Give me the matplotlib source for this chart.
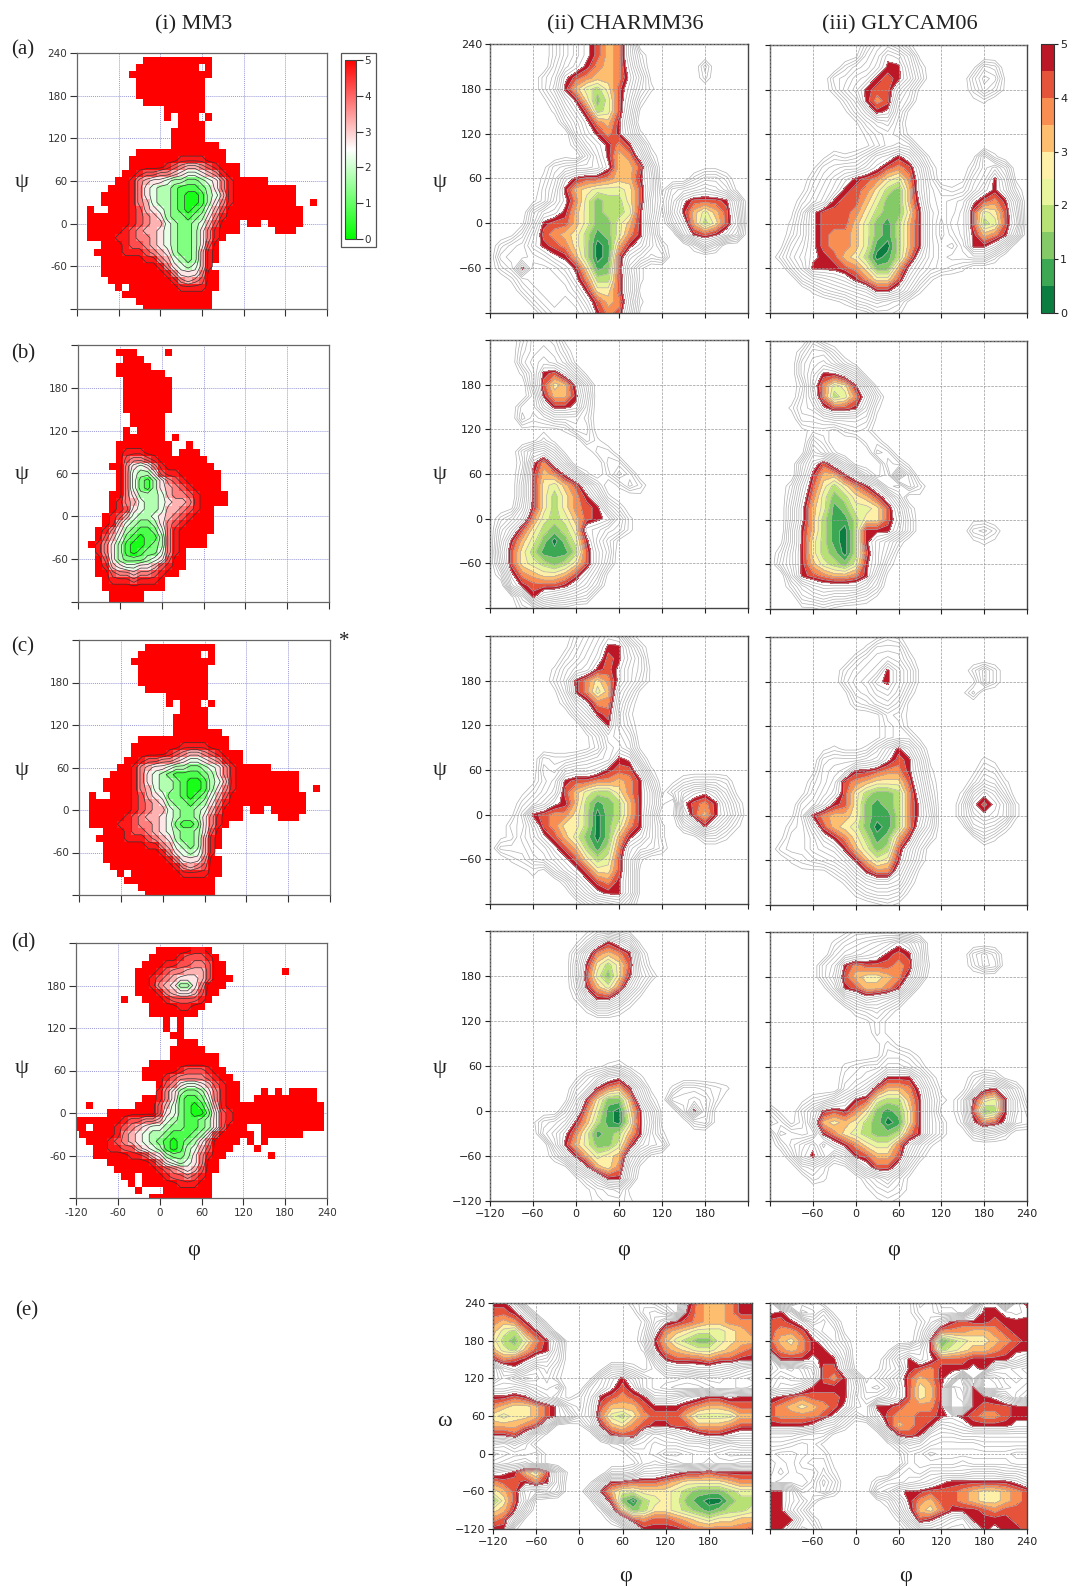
import numpy as np
import matplotlib
matplotlib.use("Agg")
import matplotlib.pyplot as plt
from matplotlib.colors import LinearSegmentedColormap, Normalize
from matplotlib.cm import ScalarMappable
from matplotlib.patches import Rectangle

W, H = 1072, 1587
SERIF = "Liberation Serif"

# MM3 maps: 10 degree cells, rows psi 230..-120, columns phi -120..230
# (first column, cells); digit = energy band (value*0.5), r = red cell, . = empty
mm3_a = [(10,"rrrrrrrrrr"),(9,"rrrrrrrrr.r"),(8,"rrrrrrrrrrrr"),(9,"rrrrrrrrrr"),(9,"rrrrrrrrrr"),(9,"rrrrrrrrrr"),
 (10,"rrrrrrrrr"),(13,"rrrrrr"),(13,"r.rrr.r"),(15,"rrrr"),(14,"rrrrr"),(14,"rrrrr"),(14,"rrrrrrr"),(9,"rrrrrrrrrrrrr"),
 (8,"rrrrrrr9999rrr"),(8,"rrrrr98766789rrr"),(7,"rr9887765445679rr"),(6,"rr976554332234579rrrrr"),
 (5,"rrr975433211123579rrrrrrrrr"),(4,"rrrr975433210013469rrrrrrrrr"),(4,"rrrr976433210013579rrrrrrrrr..r"),
 (2,"r..rrr98654321012468rrrrrrrrrrr"),(2,"rrrrrr98765322123579rrrrrrrrrrr"),(2,"rrrrrr9876643223468rrr.rr.rrrrr"),
 (2,"rrrrr98766543223579rrr.....rrr"),(2,"rrrr998776543223579r"),(4,"rrr9887654322358r"),(3,"rrrr9998765322369r"),
 (4,"rrrrrr9976432369r"),(4,"rrrrrrrr97543469"),(4,"rrrrrrrrr975557rr"),(5,"rrrrrrrrr97678rr"),(6,"r.rrrrrrr9999rr"),
 (7,"rrrrrrrrrrrrr"),(9,"rrrrrrrrrrr"),(10,"rrrrrrrrrr")]

mm3_b = [(6,"rrr....r"),(7,"rrr"),(6,"rrrrr"),(6,"rrrrrrr"),(7,"rrrrrrr"),(7,"rrrrrrr"),(7,"rrrrrrr"),(7,"rrrrrrr"),(7,"rrrrrrr"),
 (8,"rrrrr"),(8,"rrrrr"),(7,"r.rrrr"),(7,"rrrrrr.r"),(6,"rrrrrrrr..r"),(6,"r999rrrr.rrr"),(6,"r87789rrrrrrr"),
 (5,"rr754579rrrrrrr"),(6,"r74335899rrrrrr"),(6,"r742135789rrrrr"),(6,"r7421356789rrrr"),(5,"rr75333467789rrrr"),
 (5,"r976433456679rrrr"),(5,"r985433466789rr"),(4,"r986433456789rrr"),(4,"r96432235789rrrr"),(3,"r97532112479rrrrr"),
 (3,"r86421011379rrrr"),(2,"r975310012379rrrr"),(3,"975310122479r"),(3,"r8532223458rr"),(3,"r9654455689rr"),
 (3,"rr87767789rr"),(4,"r9998999r"),(4,"rrrrrrrrr"),(5,"rrrrr"),(5,"rrrrr")]

mm3_c = list(mm3_a)
mm3_c[18] = (5,"rrr975432111123579rrrrrrrrr")
mm3_c[21] = (2,"r..rrr98654221012468rrrrrrrrrrr")
mm3_c[25] = (2,"rrrr998776542112579r")

mm3_d = [(12,"rrrrr99r"),(11,"rrrr98889r"),(10,"rrr9988778rr"),(9,"rrr98776668rr........r"),(9,"rr987655568rrr"),(9,"rr97653357rrr"),
 (9,"rrr9765568rr"),(7,"r..rrr988889r"),(11,"rrrr99rr"),(11,"rrrrrrr"),(13,"r.r"),(13,"r.r"),(14,"rr"),(15,"rrr"),(14,"rrrrr"),
 (14,"rrrrrrr"),(11,"rrrrrrrrrr"),(10,"rrrrr98889rr"),(10,"rrr98777789rr"),(12,"r875445689rr"),(12,"9753223579rr...r.r.rrrr"),
 (10,"rr9752112479rr..rrrrrrrrr"),(2,"r......rrr8642101369rrrrrrrrrrrrrr"),(5,"rrrrrrr85421002589rrrrrrrrrrrrr"),
 (0,"rrrrrrr9887764321123589rrrrrrrrrrrrr"),(0,"rr.rrr9876544322112358rrr..rrrrrrrrr"),(1,"rrrrr976543321112358rrrrr.rrrrrr"),
 (2,"rrr987654321012357rrrr.r.r"),(3,"rr998865431013468rrr...r"),(3,"rrrrr998653223579rr......r"),(5,"rrrrrr97543457rr"),
 (6,"rrrrrr9876568rr"),(7,"rr.rrr988789r"),(8,"r.rrrrr999rr"),(9,"r...rrrrrrr"),(11,"rrrrrrrrr")]

# MD maps: 15 degree grid, rows 240..-120, columns phi -120..240
# (first column, cells); 0-9 = coloured bands, a-j = grey bands, . = above all levels
charmm_a = [(6,"heca867c"),(6,"heca867ch"),(6,"gdb9767bg.....g"),(5,"hfa87667aej....h"),(5,"he964358bfi"),(5,"jgc95248ch"),
 (6,"ieb8348dj"),(7,"gda769e"),(8,"eb979di"),(8,"hdb979ej"),(7,"j.gc967bh"),(5,"jgfeeda668e....jj"),(5,"ifb9887669d...hffh"),
 (5,"he96544458djfedcdfj"),(4,"jhda7423358eiea8889e"),(4,"fcb96423349ejd96468d"),(3,"je9886422469f.fb6358c"),
 (2,"jgc8765312479e..d989be"),(1,"hfeb987530169beh..hdg"),(1,"feedca963018cegf"),(1,"hf9eedb95128ei"),(2,"ifeeeda7338di"),
 (3,"hfeeec9558dj"),(4,"hfefeb867ci"),(5,"hfffd978dj")]

glycam_a = [(9,"hedfi"),(8,"jfdabej"),(7,"hfec99dh....jfg"),(6,"gfdc989cg....gdej"),(6,"hec988cfj....hegj"),(7,"he978eg.....ji"),
 (7,"jgd9afj"),(8,"jgedg"),(9,"igfgj"),(9,"jhfefj"),(5,"jhihfcb9bfj...jei"),(4,"jgfeeca878ch...hecf"),(4,"hfdb987547bg..jfd9dj"),
 (3,"jgec9875326bfhiheb9ch"),(3,"hfd98864226afgfea879e"),(2,"jfa8887532259egfd8458d"),(2,"iea8886421369ehed8348c"),
 (2,"hea8776421369ehfd9679e"),(1,"jfda8776410369eghe99bf"),(1,"heca986530137begffeeh"),(2,"gd999875226adfghi"),
 (3,"gedcb97558cfi"),(4,"igfedc99bei"),(6,"jigfefgj"),(9,"jhhi")]

charmm_b = [(3,"heefj"),(3,"gedeh"),(3,"fdcdfj"),(3,"ie98bfj"),(4,"e856af"),(4,"g9669e"),(3,"ggc99af"),(3,"fhgeeeg"),(3,"jjjjiff"),
 (4,"jhj..gi"),(3,"gdcfj..hh"),(3,"ha7bf...gg"),(3,"g967aei.heg"),(3,"f95468cg.ifh"),(3,"f953579di..j"),(2,"je9535789eh"),
 (1,"hfc7434689aei"),(1,"fc853235bcefi"),(1,"e96420249dgj"),(1,"d85311138cf"),(1,"e85432358cg"),(1,"ha765568bej"),
 (2,"c98889bdg"),(2,"jf9cdefg"),(3,"hgijj")]

glycam_b = [(4,"gj"),(3,"heeh"),(3,"fdcehj"),(3,"fc99bej"),(3,"hb7459ej"),(3,"gc7347bg"),(2,"ifea889di"),(3,"ggfeeefj"),(3,"jiijhgh"),
 (4,"fh...hh"),(3,"jdfi...fg"),(3,"fb8bfj..fgj"),(3,"e9669cgjhaf"),(2,"hc853579chieh"),(2,"gb7423568bf.j"),(2,"fa64124458ch"),
 (2,"fa63113558bg.....jj"),(2,"e963103999cg.....gfh"),(1,"je9531039ceh......jij"),(1,"hd9532038cfj"),(1,"gd9643249ch"),
 (2,"e9876679ej"),(2,"hecbbbbdg"),(3,"gfeffghj"),(3,"jjij")]

charmm_c = [(8,"hfdbch"),(7,"jgec99dh"),(7,"hfdb89cf"),(6,"ifdc98adfj"),(6,"he9757adgj"),(6,"jf9746cfj"),(7,"hda77dh"),(8,"gd98ei"),
 (9,"gd9eh"),(9,"jgcdf"),(9,"jhdcej"),(5,"ghhgfed9ag"),(5,"fgdccb988ci"),(4,"jge98877679f.jhgggh"),(3,"jhfd86433579djgdbacfj"),
 (3,"hfda96312369di.a879dh"),(2,"jf98775302369e.jc869cg"),(2,"hgc8755302479ei.gd9cfi"),(1,"jifda86420269bei..jggi"),
 (1,"gggeda863137cefh"),(2,"ihfeca85348di"),(3,"jijfca8558dj"),(4,"j..hda879dj"),(8,"gda99dj"),(9,"hfedg")]

glycam_c = [(10,"jhi"),(9,"ifffj"),(8,"hfedeh"),(7,"hfed9cfj....heh"),(7,"geda9cfj....jeh"),(7,"jfecbdh....jg"),(8,"hgedfj"),(10,"jghj"),
 (10,"jhgj"),(10,"jhggj"),(5,"jijjifc9cg"),(5,"gfffeda89ej....ij"),(4,"jfed998779di...jgh"),(4,"hfd8765558ch...hefi"),
 (3,"jgec8532237bg..idacg"),(3,"gfc98521237af..ga8adi"),(2,"jf9766521137ae..gcabdi"),(2,"hgc865420137bf..jedeh"),
 (1,"jggeb97531269eh...jgi"),(1,"hggedc964238cg"),(2,"ihgfec96459dh"),(3,"jjjhfc977bfj"),(7,"ifdccdh"),(8,"igffgj"),(10,"jij")]

charmm_d = [(9,"jhhij"),(8,"jgc9bej"),(8,"gb7679g"),(8,"f95358fj"),(8,"f84259eh"),(8,"g9647cg"),(8,"id99cgj"),(9,"iffhj"),(0,""),(0,""),(0,""),(0,""),
 (10,"jihj"),(8,"jgebaei"),(8,"ge9769ej.iffghi"),(7,"je95226ch.eedeh"),(7,"gc741059ej.f9ej"),(4,"jgfd9631049dj..gfj"),(5,"fda7412369ei"),
 (6,"e9642248cef"),(6,"hd96456cgj"),(7,"jea657ej"),(8,"jgd99f"),(9,"jhgfj"),(9,"jihhi")]

glycam_d = [(7,"jhhhhij"),(6,"igfedcacf"),(6,"gedcb989e....geg"),(5,"ge9788878ej...hef"),(5,"gd865567af"),(5,"jf986679ej"),(6,"jfdbcdfj"),
 (8,"hgfhj"),(9,"jhj"),(10,"hj"),(10,"jhj"),(10,"jgghj"),(7,"ihggeefh"),(7,"hgfd999dh...hfgj"),(7,"gec8667afj.jfa9cg"),
 (3,"jhgec9843369eijg9549ej"),(0,"gj.gd9897521259ejjg8239eh"),(0,"egjhc6565320159eh.ha78afg"),(0,"jefgf9754322379eh..gefh"),
 (1,"hecaeb975447bfi"),(2,"gb9cge98668dh"),(3,"gfh.jfb88bg"),(4,"hi...hfdgj"),(9,"jhghj"),(10,"jij")]

# phi/omega maps, rows 240..-120
charmm_e = ["99cj.........hghj.a766799","889dj........jfegj9766799","7679dj........ida98766777","64379e........hb765444567",
 "532479d.......g9643224566","643689e.......ia765445678","9789bcf........e988878899","hcadgeh...jffhjhdccbbcdfg",
 "hegihfi..jeb9cfhhhihgghij","ddcdfge..fda8afhijjjihhih","9989cehjhe98789eedba99a99","765568afhd866689998766788",
 "545568acgd743578886444466","66678dj.jf965789988666788","998bgj....e988dfedba99abb","fgegj......ihefhggffefgff",
 "jihhgj......jhghjjihhijjj","hgfegj.......jgfghihghhgg","ba9648ej...ggfccba9989999","788979e..je99888765555677",
 "568dedf..f964455543222344","258cj....jd82034542100233","569f......ib5235543212334","78dj.......hc878876545566",
 "99i.........je99998777778"]

glycam_e = ["9i.hgj.......jfgjj..aajb9","a9cjifj......jggiijd99aba","889bfdg.......ifc98998999","8778beej......hc777667899",
 "86579beh......g9134556789","976799cf...jfed9345667899","j999a99e...gc9ca8889999bd","jhigd88dj.jge987999a9efgh",
 "hfghe879ejheb8679bjajigfg","geec9999dijhc8569jh9jjhgh","a9878889ehgec8569ji99adhj","8765678aef9987779jj988899",
 "877778aehfb877889a9877899","9999adeh..f96789dcb9999aa","eeefggj....e989effeeeeeee","gghihj.....jgdeghhhhggggg",
 "ijjihh......jghjiiiiiiijj","jijhggj......ghhhhghhhhii","jhjiifi.....gfgeeeedddeef","ijj.hdg...hffedca999999ac",
 "99chgeh...eda998887655678","99ceh.....jhd976887655678","99dg.......jfa65799987888","999eh.......id89bde999988",
 "99cgfj.......hddeffd9a998"]

angle_ticks = [-120, -60, 0, 60, 120, 180, 240]
band_colors = ["#0b7d41","#3ca854","#84ca66","#b7e075","#e8f59c","#fef0a6","#fdbe6f","#f98e52","#e5533b","#bb1726"]
mm3_cmap = LinearSegmentedColormap.from_list("mm3", [(0,"#00ff00"),(0.5,"#ffffff"),(1,"#ff0000")])


def decode(rows, size):
    out = np.full((size, size), 20.0)
    for i, row in enumerate(rows):
        start, text = (0, row) if isinstance(row, str) else row
        for j, ch in enumerate(text):
            if ch != ".":
                out[i, start + j] = int(ch, 36)
    return out * 0.5 + 0.25


def decode_mm3(rows):
    out = np.full((36, 36), np.nan)
    for i, (start, text) in enumerate(rows):
        for j, ch in enumerate(text):
            if ch == "r":
                out[i, start + j] = 5.25
            elif ch != ".":
                out[i, start + j] = int(ch) * 0.5 + 0.25
    return out


def px_axes(x0, x1, y0, y1):
    return fig.add_axes([x0 / W, 1 - y1 / H, (x1 - x0) / W, (y1 - y0) / H])


def px_text(x, y, s, size=16, **kw):
    fig.text(x / W, 1 - y / H, s, fontsize=size, family=SERIF, ha=kw.pop("ha", "center"), va="center", color="#222222", **kw)


def set_ticks(ax, ylabels, xlabels, minus):
    ax.set_xlim(-120, 240)
    ax.set_ylim(-120, 240)
    ax.set_xticks(angle_ticks)
    ax.set_yticks(angle_ticks)
    fmt = lambda v: str(v).replace("-", minus)
    ax.set_xticklabels([fmt(v) if v in xlabels else "" for v in angle_ticks])
    ax.set_yticklabels([fmt(v) if v in ylabels else "" for v in angle_ticks])


def draw_mm3(box, rows, ylabels, xlabels=()):
    ax = px_axes(*box)
    z = decode_mm3(rows)
    xe = np.arange(-125, 236, 10)
    ye = np.arange(235, -126, -10)
    ax.pcolormesh(xe, ye, z, cmap=mm3_cmap, norm=Normalize(0, 5), zorder=2)
    xc = np.arange(-120, 231, 10)
    yc = np.arange(230, -121, -10)
    ax.contour(xc, yc, np.nan_to_num(z, nan=5.25), levels=np.arange(0.5, 5.01, 0.5), colors="#333333", linewidths=0.5, zorder=3)
    ax.grid(True, color="#9a9ad8", linestyle=(0, (1, 1)), linewidth=0.7)
    ax.set_axisbelow(True)
    set_ticks(ax, ylabels, xlabels, "-")
    ax.tick_params(length=5, width=0.8, labelsize=7.5, colors="#333333", pad=2)
    for s in ax.spines.values():
        s.set_color("#666666")
        s.set_linewidth(0.9)


def draw_md(box, rows, ylabels, xlabels=()):
    ax = px_axes(*box)
    z = decode(rows, 25)
    axis = np.arange(-120, 241, 15)
    yaxis = axis[::-1]
    levels = np.arange(0, 5.01, 0.5)
    cs = ax.contourf(axis, yaxis, z, levels=levels, colors=band_colors, zorder=1)
    ax.contour(axis, yaxis, z, levels=np.arange(0.5, 9.51, 0.5), colors="#b0b0b0", linewidths=0.5, zorder=2)
    ax.grid(True, color="#999999", linestyle="--", linewidth=0.5, zorder=3)
    ax.set_axisbelow(False)
    set_ticks(ax, ylabels, xlabels, "\u2212")
    ax.tick_params(length=3.5, width=0.8, labelsize=8, colors="#222222", pad=2)
    for s in ax.spines.values():
        s.set_color("#444444")
        s.set_linewidth(1.0)
    return cs


fig = plt.figure(figsize=(W / 100, H / 100), dpi=100)

y_top = [180, 120, 60, 0, -60]
y_all = [240] + y_top
draw_mm3((77, 327, 53, 309), mm3_a, y_all)
draw_mm3((78, 329, 345, 602), mm3_b, y_top)
draw_mm3((79, 330, 640, 895), mm3_c, y_top)
draw_mm3((76, 327, 943, 1198), mm3_d, y_top, angle_ticks)

cs = draw_md((490, 748, 44, 313), charmm_a, y_all)
draw_md((770, 1027, 45, 313), glycam_a, [])
draw_md((490, 748, 340, 608), charmm_b, y_top)
draw_md((770, 1027, 341, 609), glycam_b, [])
draw_md((490, 748, 636, 904), charmm_c, y_top)
draw_md((770, 1027, 637, 905), glycam_c, [])
draw_md((490, 748, 931, 1201), charmm_d, y_top + [-120], [-120, -60, 0, 60, 120, 180])
draw_md((770, 1027, 932, 1201), glycam_d, [], [-60, 0, 60, 120, 180, 240])
draw_md((493, 752, 1303, 1529), charmm_e, y_all + [-120], [-120, -60, 0, 60, 120, 180])
draw_md((770, 1027, 1303, 1529), glycam_e, [], [-60, 0, 60, 120, 180, 240])

# colour bars
fig.add_artist(Rectangle((341 / W, 1 - 247 / H), 35 / W, 194 / H, transform=fig.transFigure,
                         facecolor="white", edgecolor="#555555", linewidth=0.9, zorder=-1))
cax = px_axes(345, 356, 60, 239)
cb = fig.colorbar(ScalarMappable(Normalize(0, 5), mm3_cmap), cax=cax, ticks=range(6))
cb.ax.tick_params(length=5, width=0.8, labelsize=7.5, colors="#333333", pad=1)
cb.outline.set_edgecolor("#444444")

cax2 = px_axes(1041, 1054, 44, 313)
cb2 = fig.colorbar(cs, cax=cax2, ticks=range(6))
cb2.ax.tick_params(length=3, width=0.8, labelsize=8, colors="#222222", pad=1.5)
cb2.outline.set_edgecolor("#333333")

# headings and panel labels
px_text(194, 25, "(i) MM3")
px_text(625, 25, "(ii) CHARMM36")
px_text(900, 25, "(iii) GLYCAM06")
for lab, x, y in [("(a)", 23, 50), ("(b)", 23, 354), ("(c)", 23, 647), ("(d)", 23, 943), ("(e)", 27, 1311)]:
    px_text(x, y, lab, size=15)
px_text(344, 642, "*", size=15)
for y in [182, 474, 771, 1068]:
    px_text(22, y, "\u03c8", size=16)
    px_text(440, y, "\u03c8", size=16)
px_text(194, 1251, "\u03c6", size=16)
px_text(624, 1251, "\u03c6", size=16)
px_text(894, 1251, "\u03c6", size=16)
px_text(444, 1422, "\u03c9", size=16)
px_text(626, 1577, "\u03c6", size=16)
px_text(906, 1577, "\u03c6", size=16)

fig.savefig("out.png", dpi=100)
